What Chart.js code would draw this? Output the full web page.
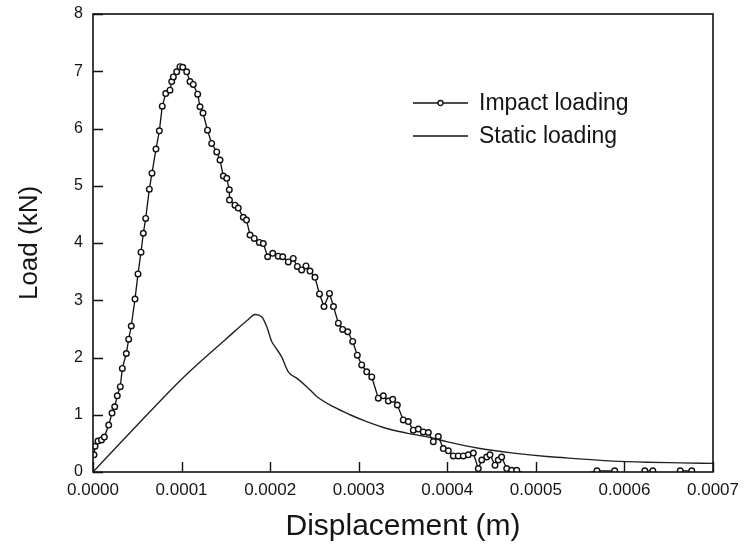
<!DOCTYPE html>
<html>
<head>
<meta charset="utf-8">
<script src="https://cdn.jsdelivr.net/npm/chart.js@4.4.1/dist/chart.umd.min.js"></script>
<style>
  html, body { margin: 0; padding: 0; background: #fff; }
  #wrap { width: 744px; height: 548px; position: relative; }
</style>
</head>
<body>
<div id="wrap"><canvas id="c" width="744" height="548"></canvas></div>
<script>
// Displacement values in units of 1e-4 m (scaled to metres below), load in kN
const impactX = [0.011, 0.023, 0.056, 0.096, 0.128, 0.177, 0.215, 0.245, 0.274, 0.308,
  0.331, 0.376, 0.403, 0.432, 0.474, 0.508, 0.542, 0.568, 0.595, 0.636,
  0.666, 0.711, 0.749, 0.782, 0.821, 0.869, 0.889, 0.907, 0.945, 0.982,
  1.013, 1.058, 1.095, 1.132, 1.182, 1.208, 1.242, 1.293, 1.340, 1.397,
  1.434, 1.471, 1.510, 1.539, 1.541, 1.603, 1.640, 1.697, 1.733, 1.773,
  1.821, 1.878, 1.923, 1.972, 2.029, 2.092, 2.142, 2.205, 2.261, 2.307,
  2.356, 2.405, 2.450, 2.506, 2.557, 2.608, 2.670, 2.715, 2.770, 2.819,
  2.876, 2.932, 2.984, 3.034, 3.090, 3.147, 3.221, 3.278, 3.334, 3.384,
  3.436, 3.503, 3.560, 3.616, 3.673, 3.729, 3.786, 3.842, 3.899, 3.955,
  4.012, 4.068, 4.124, 4.181, 4.237, 4.294, 4.350, 4.389, 4.445, 4.482,
  4.539, 4.576, 4.614, 4.671, 4.727, 4.784, 5.000, 5.350, 5.690, 5.890,
  6.050, 6.230, 6.320, 6.480, 6.630, 6.760, 6.900];
const impactY = [0.30, 0.45, 0.54, 0.56, 0.61, 0.82, 1.03, 1.14, 1.33, 1.49,
  1.81, 2.07, 2.32, 2.55, 3.02, 3.46, 3.84, 4.17, 4.43, 4.94,
  5.22, 5.64, 5.96, 6.39, 6.61, 6.67, 6.82, 6.90, 6.99, 7.08,
  7.07, 6.99, 6.82, 6.77, 6.60, 6.38, 6.27, 5.97, 5.74, 5.59,
  5.45, 5.17, 5.13, 4.93, 4.75, 4.66, 4.61, 4.45, 4.40, 4.14,
  4.08, 4.01, 3.99, 3.76, 3.82, 3.77, 3.76, 3.67, 3.73, 3.59,
  3.53, 3.60, 3.51, 3.40, 3.11, 2.89, 3.12, 2.89, 2.60, 2.49,
  2.45, 2.28, 2.04, 1.87, 1.75, 1.66, 1.29, 1.33, 1.24, 1.27,
  1.17, 0.91, 0.88, 0.73, 0.75, 0.70, 0.69, 0.53, 0.62, 0.41,
  0.37, 0.28, 0.28, 0.28, 0.30, 0.33, 0.06, 0.21, 0.26, 0.30,
  0.12, 0.21, 0.26, 0.06, 0.03, 0.03, -0.10, -0.10, 0.02, 0.02,
  -0.10, 0.02, 0.02, -0.10, 0.02, 0.02, -0.10];

const staticX = [0.000, 0.500, 0.960, 1.208, 1.500, 1.750, 1.829, 1.904, 1.961, 2.018,
  2.055, 2.130, 2.205, 2.300, 2.413, 2.526, 2.713, 2.902, 3.090, 3.316,
  3.542, 3.842, 3.993, 4.369, 4.745, 5.122, 5.498, 5.874, 6.251, 6.628, 7.000];
const staticY = [0.00, 0.82, 1.56, 1.92, 2.32, 2.66, 2.75, 2.71, 2.54, 2.28,
  2.19, 2.01, 1.75, 1.64, 1.49, 1.32, 1.14, 1.00, 0.88, 0.76,
  0.68, 0.59, 0.53, 0.41, 0.33, 0.27, 0.23, 0.19, 0.17, 0.16, 0.15];

const xTicks = [0, 0.0001, 0.0002, 0.0003, 0.0004, 0.0005, 0.0006, 0.0007];
const yTicks = [0, 1, 2, 3, 4, 5, 6, 7, 8];
const seriesNames = ['Impact loading', 'Static loading'];
const xTitle = 'Displacement (m)';
const yTitle = 'Load (kN)';

const UNIT = 1e-4;
const impactData = impactX.map((x, i) => ({ x: x * UNIT, y: impactY[i] }));
const staticData = staticX.map((x, i) => ({ x: x * UNIT, y: staticY[i] }));

const FONT = "'Liberation Sans', Arial, sans-serif";
const TXT = '#151515';

const framePlugin = {
  id: 'frame',
  afterDatasetsDraw(chart) {
    const { ctx, chartArea: a, scales } = chart;
    ctx.save();
    ctx.strokeStyle = '#111';
    ctx.lineWidth = 1.6;
    ctx.strokeRect(a.left, a.top, a.right - a.left, a.bottom - a.top);
    ctx.lineWidth = 1.4;
    ctx.beginPath();
    xTicks.forEach(v => {
      const px = Math.round(scales.x.getPixelForValue(v)) + 0.5;
      ctx.moveTo(px, a.bottom);
      ctx.lineTo(px, a.bottom - 10);
    });
    yTicks.forEach(v => {
      const py = Math.round(scales.y.getPixelForValue(v)) + 0.5;
      ctx.moveTo(a.left, py);
      ctx.lineTo(a.left + 10, py);
    });
    ctx.stroke();

    // legend
    const lx0 = 413, lx1 = 468, tx = 479;
    const rows = [103, 136];
    ctx.lineWidth = 1.3;
    ctx.strokeStyle = '#111';
    rows.forEach((ry, i) => {
      ctx.beginPath();
      ctx.moveTo(lx0, ry);
      ctx.lineTo(lx1, ry);
      ctx.stroke();
      if (i === 0) {
        ctx.beginPath();
        ctx.fillStyle = '#fff';
        ctx.arc((lx0 + lx1) / 2, ry, 2.5, 0, Math.PI * 2);
        ctx.fill();
        ctx.stroke();
      }
      ctx.fillStyle = TXT;
      ctx.font = '23px ' + FONT;
      ctx.textBaseline = 'middle';
      ctx.textAlign = 'left';
      ctx.fillText(seriesNames[i], tx, ry + 1);
    });
    ctx.restore();
  }
};

new Chart(document.getElementById('c'), {
  type: 'scatter',
  data: {
    datasets: [
      {
        label: seriesNames[0],
        data: impactData,
        showLine: true,
        borderColor: '#111',
        borderWidth: 1.3,
        pointRadius: 2.8,
        pointBorderWidth: 1.4,
        pointBackgroundColor: '#fff',
        pointBorderColor: '#111',
        tension: 0
      },
      {
        label: seriesNames[1],
        data: staticData,
        showLine: true,
        borderColor: '#222',
        borderWidth: 1.4,
        pointRadius: 0,
        cubicInterpolationMode: 'monotone'
      }
    ]
  },
  options: {
    responsive: false,
    animation: false,
    events: [],
    layout: { padding: { top: 14, right: 31, left: 0, bottom: 0 } },
    plugins: { legend: { display: false }, tooltip: { enabled: false } },
    scales: {
      x: {
        type: 'linear',
        min: 0,
        max: 0.0007,
        afterBuildTicks: s => { s.ticks = xTicks.map(v => ({ value: v })); },
        afterFit: s => { s.height = 76; s.paddingLeft = 0; s.paddingRight = 0; },
        ticks: {
          callback: v => v.toFixed(4),
          font: { family: FONT, size: 17 },
          color: TXT,
          padding: 8,
          maxRotation: 0,
          autoSkip: false
        },
        grid: { display: true, drawOnChartArea: false, drawTicks: false },
        border: { display: false },
        title: {
          display: true,
          text: xTitle,
          font: { family: FONT, size: 30 },
          color: TXT,
          padding: { top: 0, bottom: 3 }
        }
      },
      y: {
        type: 'linear',
        min: 0,
        max: 8,
        afterBuildTicks: s => { s.ticks = yTicks.map(v => ({ value: v })); },
        afterFit: s => { s.width = 93; s.paddingTop = 0; s.paddingBottom = 0; },
        ticks: {
          font: { family: FONT, size: 16 },
          color: TXT,
          padding: 10
        },
        grid: { display: true, drawOnChartArea: false, drawTicks: false },
        border: { display: false },
        title: {
          display: true,
          text: yTitle,
          font: { family: FONT, size: 26 },
          color: TXT,
          padding: { top: 14, bottom: 0 }
        }
      }
    }
  },
  plugins: [framePlugin]
});
</script>
</body>
</html>
